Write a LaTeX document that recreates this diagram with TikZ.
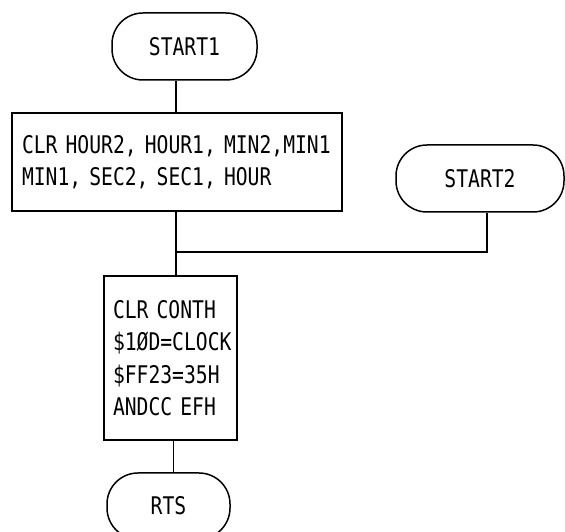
\documentclass[tikz,border=0pt]{standalone}
\usepackage{fontspec}
\newfontfamily\dotfont[FakeStretch=0.81]{DejaVu Sans Mono}
\usetikzlibrary{positioning}

\tikzset{
	terminal/.style={draw, line width=1.5pt, rounded corners=31pt, minimum height=67pt, font=\dotfont\fontsize{24.3}{32}\selectfont},
	process/.style={draw, line width=1.5pt, inner xsep=10pt, align=left, font=\dotfont\fontsize{24.3}{32.5}\selectfont},
	flow/.style={line width=1.5pt}
}

\begin{document}
\begin{tikzpicture}[x=1pt,y=1pt]
		\useasboundingbox (0,0) rectangle (565,532);
		
		\node[terminal, minimum width=145pt] (start1) at (184.5,485.5) {START1};
		\node[process, minimum width=330pt, minimum height=98pt, text width=310pt] (clr1) at (177,370) {CLR HOUR2, HOUR1, MIN2,MIN1\\MIN1, SEC2, SEC1, HOUR};
		\node[terminal, minimum width=168pt] (start2) at (480,353.5) {START2};
		
		\node[process, minimum width=133pt, minimum height=164pt, text width=115pt, inner xsep=9pt] (clr2) at (170.5,174) {CLR CONTH\\\$1ØD=CLOCK\\\$FF23=35H\\ANDCC EFH};
		\node[terminal, minimum width=123pt, minimum height=66pt] (rts) at (168.5,26) {RTS};
		
		\coordinate (join) at (176,280);
		
		\draw[flow] ([xshift=-1pt]clr1.north) -- ([xshift=-1pt]clr1.north |- start1.south);
		\draw[flow] ([xshift=-1pt]clr1.south) -- (join) -- (join |- clr2.north);
		\draw[flow] ([xshift=7pt]start2.south) |- (join);
		\draw[flow] ([xshift=3pt]clr2.south) -- ([xshift=3pt]clr2.south |- rts.north);
\end{tikzpicture}
\end{document}
